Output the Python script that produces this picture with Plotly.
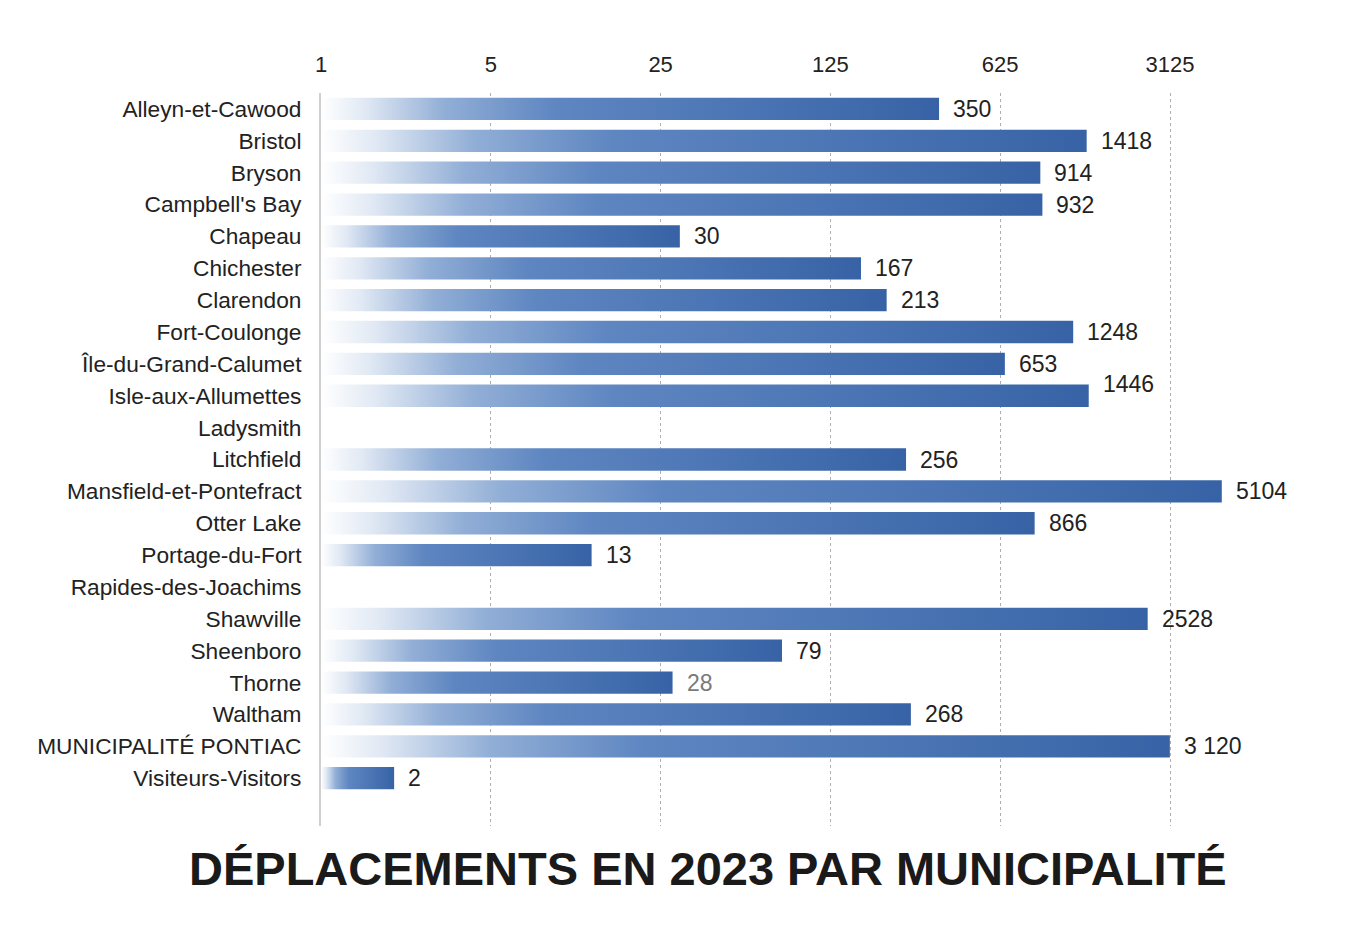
import math
import plotly.graph_objects as go

municipalities = [
    "Alleyn-et-Cawood", "Bristol", "Bryson", "Campbell's Bay", "Chapeau",
    "Chichester", "Clarendon", "Fort-Coulonge", "Île-du-Grand-Calumet",
    "Isle-aux-Allumettes", "Ladysmith", "Litchfield", "Mansfield-et-Pontefract",
    "Otter Lake", "Portage-du-Fort", "Rapides-des-Joachims", "Shawville",
    "Sheenboro", "Thorne", "Waltham", "MUNICIPALITÉ PONTIAC", "Visiteurs-Visitors",
]
trips = [350, 1418, 914, 932, 30, 167, 213, 1248, 653, 1446, 0, 256, 5104,
         866, 13, 0, 2528, 79, 28, 268, 3120, 2]
value_labels = ["350", "1418", "914", "932", "30", "167", "213", "1248", "653",
                "1446", "", "256", "5104", "866", "13", "", "2528", "79", "28",
                "268", "3 120", "2"]
tick_values = [1, 5, 25, 125, 625, 3125]
tick_labels = ["1", "5", "25", "125", "625", "3125"]
title_text = "DÉPLACEMENTS EN 2023 PAR MUNICIPALITÉ"

FONT = "Liberation Sans, Arial, sans-serif"
L, R, T, B = 313, 46, 85, 121
W, H = 1359, 939

fig = go.Figure()
half = 0.35
grad = [[0.0, "rgba(255,255,255,1)"], [0.07, "rgb(225,233,244)"],
        [0.2, "rgb(145,174,214)"], [0.38, "rgb(94,134,193)"],
        [1.0, "rgb(55,99,166)"]]
for i, (name, v) in enumerate(zip(municipalities, trips)):
    if v <= 0:
        continue
    fig.add_trace(go.Scatter(
        x=[1, v, v, 1, 1],
        y=[i - half, i - half, i + half, i + half, i - half],
        mode="lines", fill="toself", line=dict(width=0),
        fillgradient=dict(type="horizontal", colorscale=grad),
        name=name, showlegend=False, hoverinfo="skip",
    ))

for i, (v, lab) in enumerate(zip(trips, value_labels)):
    if v <= 0 or not lab:
        continue
    fig.add_annotation(
        x=math.log10(v), y=i, text=lab, showarrow=False,
        xanchor="left", yanchor="middle", xshift=12,
        yshift=12 if municipalities[i] == "Isle-aux-Allumettes" else 0,
        font=dict(size=23, color="#7a7a7a" if lab == "28" else "#222222", family=FONT),
    )

plot_w = W - L - R
plot_h = H - T - B
fig.add_annotation(
    text="<b>" + title_text + "</b>", xref="paper", yref="paper",
    x=(700 - L) / plot_w, y=-(860 - (T + plot_h)) / plot_h,
    showarrow=False, xanchor="center", yanchor="middle",
    font=dict(size=47, color="#1a1a1a", family=FONT),
)

n = len(municipalities)
upper = 5.889 * math.log10(5)
fig.update_layout(
    width=W, height=H,
    paper_bgcolor="white", plot_bgcolor="white",
    margin=dict(l=L, r=R, t=T, b=B, autoexpand=False),
    font=dict(family=FONT, size=22, color="#222222"),
    xaxis=dict(
        type="log", range=[0, upper], side="top",
        tickvals=tick_values, ticktext=tick_labels,
        tickfont=dict(size=22, color="#222222"),
        showgrid=True, gridcolor="rgba(140,140,140,0.7)", griddash="dot", gridwidth=1,
        showline=False, zeroline=False, ticks="", ticklabelstandoff=16,
        automargin=False,
    ),
    yaxis=dict(
        range=[n + 0.5, -0.5], tickmode="array",
        tickvals=list(range(n)), ticktext=municipalities,
        tickfont=dict(size=22.7, color="#222222"),
        showgrid=False, zeroline=False, showline=True,
        linecolor="#d0d0d0", linewidth=2, ticks="", ticklabelstandoff=13,
        automargin=False,
    ),
)

fig.write_html("out.html")
